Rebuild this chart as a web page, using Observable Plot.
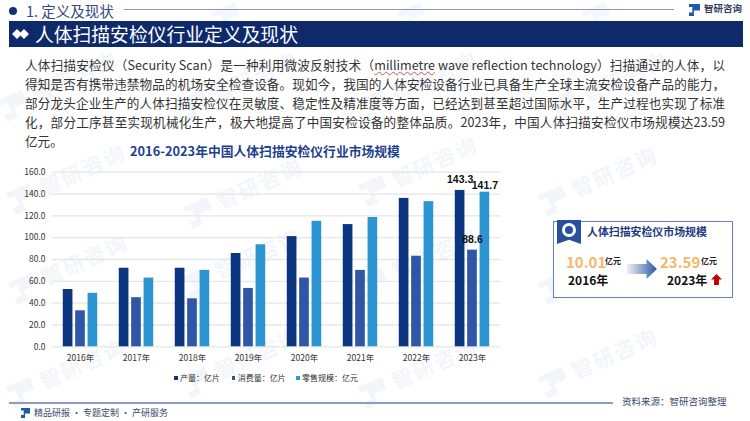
<!DOCTYPE html>
<html><head><meta charset="utf-8">
<script src="https://cdn.jsdelivr.net/npm/d3@7"></script>
<script src="https://cdn.jsdelivr.net/npm/@observablehq/plot@0.6"></script>
<style>
html,body{margin:0;padding:0;background:#fff}
#page{position:relative;width:750px;height:421px;overflow:hidden;font-family:"Noto Sans CJK SC","Noto Sans",sans-serif;color:#222}
#page>*{position:absolute}
.t{white-space:nowrap;line-height:1}
.l{position:absolute;left:25px;width:700px;font-size:12.6px;line-height:19px;height:19px;color:#333;text-align:justify;text-align-last:justify;white-space:nowrap}
.wm{color:#1e5aaa;opacity:.05;font-weight:700;font-size:21px;transform:translate(-50%,-50%) rotate(-24deg);white-space:nowrap;line-height:1;letter-spacing:2px}
.wm i{display:inline-block;width:26px;height:24px;margin-right:8px;background:#1e5aaa;vertical-align:middle;clip-path:polygon(0 0,100% 0,100% 55%,45% 55%,45% 100%,0 100%,0 70%,30% 70%,30% 25%,0 25%)}
svg.chart{position:absolute;left:0;top:0;background:transparent}
</style></head>
<body><div id="page"></div>
<script>
const years = ["2016","2017","2018","2019","2020","2021","2022","2023"];
const seriesNames = ["产量\uFF1A亿片","消费量\uFF1A亿片","零售规模\uFF1A亿元"];
const production = [52.5,72,72,85.5,101,112,136,143.3];
const consumption = [33,45,44,53.5,63,70,83,88.6];
const retail = [49,63,70,93.5,115,118.5,133,141.7];
const seriesColors = ["#0d3680","#2f57a5","#2e95d3"];
const bodyLines = [
 '人体扫描安检仪\uFF08Security Scan\uFF09是一种利用微波反射技术\uFF08<span style="text-decoration:underline wavy #e05050 1px">millimetre</span> wave reflection technology\uFF09扫描通过的人体\uFF0C以',
 '得知是否有携带违禁物品的机场安全检查设备。现如今\uFF0C我国的人体安检设备行业已具备生产全球主流安检设备产品的能力\uFF0C',
 '部分龙头企业生产的人体扫描安检仪在灵敏度、稳定性及精准度等方面\uFF0C已经达到甚至超过国际水平\uFF0C生产过程也实现了标准',
 '化\uFF0C部分工序甚至实现机械化生产\uFF0C极大地提高了中国安检设备的整体品质。2023年\uFF0C中国人体扫描安检仪市场规模达23.59',
 '亿元。'
];

const page = document.getElementById("page");
function add(html){const d=document.createElement("div");d.innerHTML=html;const e=d.firstElementChild;page.appendChild(e);return e;}
function txt(s,x,y,size,color,extra=""){return add(`<div class="t" style="left:${x}px;top:${y-size/2}px;font-size:${size}px;color:${color};${extra}">${s}</div>`);}
const logoClip = "clip-path:polygon(0 0,100% 0,100% 55%,45% 55%,45% 100%,0 100%,0 70%,30% 70%,30% 25%,0 25%)";

// watermark
[[68,178],[245,192],[420,170],[600,180],[70,268],[243,262],[420,262],[600,268],[68,372],[243,362],[420,372],[600,362],[60,85],[240,85],[420,85],[610,85]]
 .forEach(([x,y])=>add(`<div class="wm" style="left:${x}px;top:${y}px"><i></i>智研咨询</div>`));
[[215,6],[400,6],[585,6]].forEach(([x,y])=>add(`<div style="left:${x}px;top:${y}px;width:26px;height:24px;background:#1e5aaa;opacity:.05;transform:rotate(-24deg);${logoClip}"></div>`));

// header
add(`<div style="left:9px;top:7px;width:8px;height:8px;border-radius:50%;background:#13306f"></div>`);
txt("1. 定义及现状",26,11,14.5,"#35477f");
add(`<div style="left:124px;top:8.5px;width:550px;height:1px;background:#8b97bd"></div>`);
add(`<div style="left:689px;top:4px;width:11px;height:12px;background:#1e5aaa;${logoClip}"></div>`);
txt("智研咨询",704,8.5,9.5,"#33405e","font-weight:700");
add(`<div style="left:9px;top:21px;width:734px;height:26px;background:#0e2a6b"></div>`);
add(`<div style="left:12px;top:29px;width:10px;height:10px;background:#fff;clip-path:polygon(50% 0,100% 50%,50% 100%,0 50%)"></div>`);
add(`<div style="left:19px;top:29px;width:10px;height:10px;background:#fff;clip-path:polygon(50% 0,100% 50%,50% 100%,0 50%)"></div>`);
txt("人体扫描安检仪行业定义及现状",35,34,18.8,"#fff");

// body
bodyLines.forEach((s,i)=>add(`<div class="l" style="top:${54.5+i*19.15}px;${i===4?'text-align-last:left':''}">${s}</div>`));

// chart title
txt("2016-2023年中国人体扫描安检仪行业市场规模",130,151,12.8,"#1f3f8f","font-weight:700");

// chart
const rows = years.flatMap((y,i)=>[production[i],consumption[i],retail[i]].map((v,k)=>({year:y,series:seriesNames[k],value:v})));
const labelled = rows.filter(d=>d.year==="2023");
const valueLabel = (k,dy)=>Plot.text(labelled.filter(d=>d.series===seriesNames[k]),{fx:"year",x:"series",y:"value",text:d=>d.value.toFixed(1),dy,fontSize:10.5,fontWeight:700,fill:"#111",fontFamily:'"Liberation Sans",sans-serif'});
const chart = Plot.plot({
  width:750,height:421,marginTop:171.7,marginBottom:74.7,marginLeft:52,marginRight:250,
  style:{background:"transparent",fontFamily:'"Noto Sans CJK SC",sans-serif',fontSize:"8.5px",color:"#333"},
  fx:{domain:years,padding:0,round:false,label:null},
  x:{domain:seriesNames,paddingInner:0.22,paddingOuter:0.868,round:false,axis:null},
  y:{domain:[0,160],label:null},
  color:{domain:seriesNames,range:seriesColors},
  marks:[
    Plot.gridY(d3.range(0,161,20),{stroke:"#e6e6e6",strokeWidth:1.3,strokeOpacity:1}),
    Plot.barY(rows,{fx:"year",x:"series",y:"value",fill:"series"}),
    valueLabel(0,-11),valueLabel(1,-10),valueLabel(2,-7),
    Plot.axisY(d3.range(0,161,20),{tickSize:0,tickPadding:7,tickFormat:d3.format(".1f"),label:null,fill:"#333"}),
    Plot.axisFx({tickSize:0,tickPadding:8,label:null,fill:"#333",anchor:"bottom",tickFormat:d=>d+"年"})
  ]
});
chart.classList.add("chart");
page.appendChild(chart);

// legend
[[174,0],[231.7,1],[296,2]].forEach(([x,k])=>{
  add(`<div style="left:${x}px;top:376px;width:3.5px;height:3.5px;background:${seriesColors[k]}"></div>`);
  txt(seriesNames[k],x+6,378,8,"#333");
});

// panel
const bigNum = 'font-weight:700;font-family:"Liberation Sans",sans-serif';
add(`<div style="left:553px;top:221px;width:178px;height:75px;border:1px solid #5f82c0;background:#fff"></div>`);
add(`<div style="left:557px;top:220px;width:24px;height:24px;background:#2a4f9c;clip-path:polygon(0 0,100% 0,100% 100%,50% 82%,0 100%)"></div>`);
add(`<div style="left:562px;top:223px;width:14px;height:14px;border-radius:50%;background:#fff"></div>`);
add(`<div style="left:565px;top:226px;width:8px;height:8px;border-radius:50%;background:#2a4f9c"></div>`);
txt("人体扫描安检仪市场规模",587,231,10.9,"#1d3b80","font-weight:700");
txt("10.01",566,261,15,"#f9b66b",bigNum);
txt("亿元",605,261,8,"#222","font-weight:700");
txt("2016年",568,280,12,"#111","font-weight:700");
add(`<div style="left:627px;top:259px;width:30px;height:20px;background:linear-gradient(90deg,#eef1f8,#2f57a5);clip-path:polygon(0 25%,65% 25%,65% 0,100% 50%,65% 100%,65% 75%,0 75%)"></div>`);
txt("23.59",660,261,15,"#f9b66b",bigNum);
txt("亿元",701,261,8,"#222","font-weight:700");
txt("2023年",667,280,12,"#111","font-weight:700");
add(`<div style="left:711px;top:274px;width:11px;height:11px;background:#c00000;clip-path:polygon(50% 0,100% 50%,72% 50%,72% 100%,28% 100%,28% 50%,0 50%)"></div>`);

// footer
add(`<div style="left:9px;top:402px;width:604px;height:1.5px;background:#8f9bc0"></div>`);
txt("资料来源\uFF1A智研咨询整理",622,401.7,9.5,"#3b4a6b");
add(`<div style="left:21px;top:408px;width:9px;height:10px;background:#1e5aaa;${logoClip}"></div>`);
txt("精品研报 · 专题定制 · 产研服务",34,412.7,9,"#3b4a6b");
</script>
</body></html>
